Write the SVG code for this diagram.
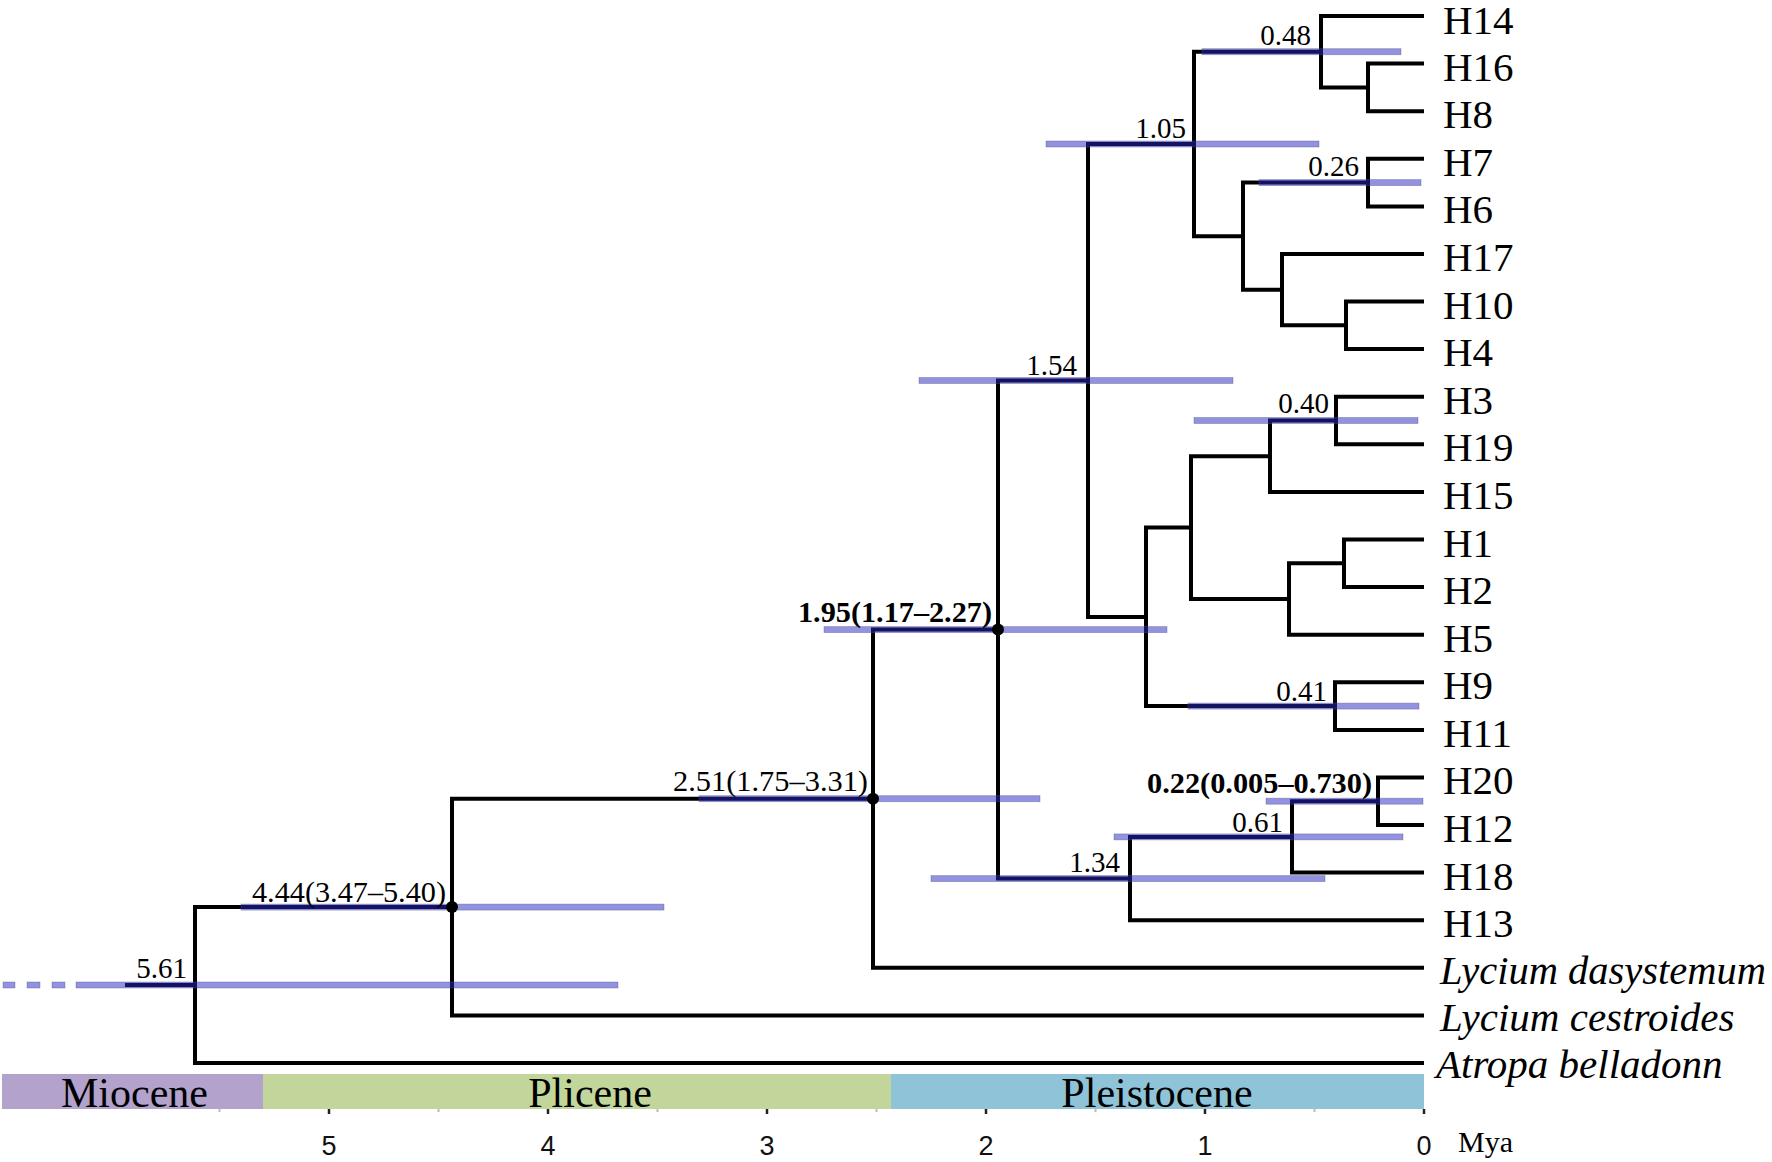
<svg xmlns="http://www.w3.org/2000/svg" width="1772" height="1162" viewBox="0 0 1772 1162">
<style>
.br{fill:none;stroke:#000;stroke-width:4;stroke-linejoin:miter;stroke-linecap:butt}
.hpd{fill:#2626c4;fill-opacity:0.5;stroke:#55557a;stroke-opacity:0.45;stroke-width:0.8}
.nl{font-family:"Liberation Serif","Times New Roman",serif;font-size:29px;fill:#000;text-anchor:end}
.nb{font-weight:bold}
.tl{font-family:"Liberation Serif","Times New Roman",serif;font-size:41px;fill:#000}
.it{font-style:italic}
.ep{font-family:"Liberation Serif","Times New Roman",serif;font-size:42px;fill:#000;text-anchor:middle}
.ax{font-family:"Liberation Sans",Arial,sans-serif;font-size:27px;fill:#111;text-anchor:middle}
.dot{fill:#000}
</style>
<rect x="0" y="0" width="1772" height="1162" fill="#fff"/>
<g id="connectors">
<path class="br" d="M1424,63.6 H1368 V111.2 H1424"/>
<path class="br" d="M1424,16 H1321 V87.4 H1368"/>
<path class="br" d="M1424,158.8 H1368 V206.4 H1424"/>
<path class="br" d="M1424,301.5 H1346 V349.1 H1424"/>
<path class="br" d="M1424,254 H1282 V325.3 H1346"/>
<path class="br" d="M1368,182.6 H1243 V289.7 H1282"/>
<path class="br" d="M1321,51.7 H1194 V236.2 H1243"/>
<path class="br" d="M1424,396.7 H1336 V444.3 H1424"/>
<path class="br" d="M1336,420.5 H1270 V491.9 H1424"/>
<path class="br" d="M1424,539.5 H1344 V587.1 H1424"/>
<path class="br" d="M1344,563.3 H1289 V634.7 H1424"/>
<path class="br" d="M1270,456.2 H1191 V599 H1289"/>
<path class="br" d="M1424,682.3 H1335 V729.9 H1424"/>
<path class="br" d="M1191,527.6 H1146 V706.1 H1335"/>
<path class="br" d="M1194,144 H1088 V616.9 H1146"/>
<path class="br" d="M1424,777.4 H1378 V825 H1424"/>
<path class="br" d="M1378,801.2 H1292 V872.6 H1424"/>
<path class="br" d="M1292,836.9 H1130 V920.2 H1424"/>
<path class="br" d="M1088,380.5 H998 V878.6 H1130"/>
<path class="br" d="M998,629.6 H873 V967.8 H1424"/>
<path class="br" d="M873,798.7 H452 V1015.4 H1424"/>
<path class="br" d="M452,907.1 H195 V1063 H1424"/>
<path class="br" d="M125,985 H195"/>
</g>
<g id="node-root">
<rect class="hpd" x="3" y="982" width="12" height="6"/>
<rect class="hpd" x="27" y="982" width="13" height="6"/>
<rect class="hpd" x="52" y="982" width="13" height="6"/>
<rect class="hpd" x="76" y="982" width="542" height="6"/>
<text class="nl" x="187" y="978">5.61</text>
</g>
<g id="node-4.44">
<rect class="hpd" x="241" y="904.1" width="423" height="6"/>
<circle class="dot" cx="452" cy="907.1" r="6"/>
<text class="nl" x="446" y="902" textLength="194" lengthAdjust="spacingAndGlyphs">4.44(3.47–5.40)</text>
</g>
<g id="node-2.51">
<rect class="hpd" x="699" y="795.7" width="341" height="6"/>
<circle class="dot" cx="873" cy="798.7" r="6"/>
<text class="nl" x="868" y="791" textLength="195" lengthAdjust="spacingAndGlyphs">2.51(1.75–3.31)</text>
</g>
<g id="node-1.95">
<rect class="hpd" x="824" y="626.6" width="343" height="6"/>
<circle class="dot" cx="998" cy="629.6" r="6"/>
<text class="nl nb" x="992" y="622" textLength="194" lengthAdjust="spacingAndGlyphs">1.95(1.17–2.27)</text>
</g>
<g id="node-1.54">
<rect class="hpd" x="919" y="377.5" width="314" height="6"/>
<text class="nl" x="1077" y="375">1.54</text>
</g>
<g id="node-1.05">
<rect class="hpd" x="1046" y="141" width="273" height="6"/>
<text class="nl" x="1186" y="138">1.05</text>
</g>
<g id="node-0.48">
<rect class="hpd" x="1202" y="48.7" width="199" height="6"/>
<text class="nl" x="1311" y="45">0.48</text>
</g>
<g id="node-0.26">
<rect class="hpd" x="1259" y="179.6" width="162" height="6"/>
<text class="nl" x="1359" y="176">0.26</text>
</g>
<g id="node-0.40">
<rect class="hpd" x="1194" y="417.5" width="224" height="6"/>
<text class="nl" x="1329" y="413">0.40</text>
</g>
<g id="node-0.41">
<rect class="hpd" x="1188" y="703.1" width="231" height="6"/>
<text class="nl" x="1327" y="701">0.41</text>
</g>
<g id="node-1.34">
<rect class="hpd" x="931" y="875.6" width="394" height="6"/>
<text class="nl" x="1120" y="872">1.34</text>
</g>
<g id="node-0.61">
<rect class="hpd" x="1114" y="833.9" width="289" height="6"/>
<text class="nl" x="1283" y="832">0.61</text>
</g>
<g id="node-0.22">
<rect class="hpd" x="1266" y="798.2" width="157" height="6"/>
<text class="nl nb" x="1372" y="793" textLength="225" lengthAdjust="spacingAndGlyphs">0.22(0.005–0.730)</text>
</g>
<g id="tips">
<g id="tip-H14"><text class="tl" x="1443" y="34">H14</text></g>
<g id="tip-H16"><text class="tl" x="1443" y="80.6">H16</text></g>
<g id="tip-H8"><text class="tl" x="1443" y="128.2">H8</text></g>
<g id="tip-H7"><text class="tl" x="1443" y="175.8">H7</text></g>
<g id="tip-H6"><text class="tl" x="1443" y="223.4">H6</text></g>
<g id="tip-H17"><text class="tl" x="1443" y="271">H17</text></g>
<g id="tip-H10"><text class="tl" x="1443" y="318.5">H10</text></g>
<g id="tip-H4"><text class="tl" x="1443" y="366.1">H4</text></g>
<g id="tip-H3"><text class="tl" x="1443" y="413.7">H3</text></g>
<g id="tip-H19"><text class="tl" x="1443" y="461.3">H19</text></g>
<g id="tip-H15"><text class="tl" x="1443" y="508.9">H15</text></g>
<g id="tip-H1"><text class="tl" x="1443" y="556.5">H1</text></g>
<g id="tip-H2"><text class="tl" x="1443" y="604.1">H2</text></g>
<g id="tip-H5"><text class="tl" x="1443" y="651.7">H5</text></g>
<g id="tip-H9"><text class="tl" x="1443" y="699.3">H9</text></g>
<g id="tip-H11"><text class="tl" x="1443" y="746.9">H11</text></g>
<g id="tip-H20"><text class="tl" x="1443" y="794.4">H20</text></g>
<g id="tip-H12"><text class="tl" x="1443" y="842">H12</text></g>
<g id="tip-H18"><text class="tl" x="1443" y="889.6">H18</text></g>
<g id="tip-H13"><text class="tl" x="1443" y="937.2">H13</text></g>
<g id="tip-Ldas"><text class="tl it" x="1440" y="983.8" textLength="326" lengthAdjust="spacingAndGlyphs">Lycium dasystemum</text></g>
<g id="tip-Lces"><text class="tl it" x="1440" y="1031.4">Lycium cestroides</text></g>
<g id="tip-Atropa"><text class="tl it" x="1436" y="1078">Atropa belladonn</text></g>
</g>
<g id="timescale">
<g stroke="#bbb" stroke-width="2">
<line x1="219.5" y1="1109" x2="219.5" y2="1112"/>
<line x1="438.5" y1="1109" x2="438.5" y2="1112"/>
<line x1="657.5" y1="1109" x2="657.5" y2="1112"/>
<line x1="876.5" y1="1109" x2="876.5" y2="1112"/>
<line x1="1095.5" y1="1109" x2="1095.5" y2="1112"/>
<line x1="1314.5" y1="1109" x2="1314.5" y2="1112"/>
</g>
<g stroke="#222" stroke-width="2.5">
<line x1="329" y1="1109" x2="329" y2="1114"/>
<line x1="548" y1="1109" x2="548" y2="1114"/>
<line x1="767" y1="1109" x2="767" y2="1114"/>
<line x1="986" y1="1109" x2="986" y2="1114"/>
<line x1="1205" y1="1109" x2="1205" y2="1114"/>
<line x1="1424" y1="1109" x2="1424" y2="1114"/>
</g>
<rect x="2" y="1074" width="261" height="35" fill="#b2a2cc"/>
<rect x="263" y="1074" width="628" height="35" fill="#c2d69b"/>
<rect x="891" y="1074" width="533" height="35" fill="#8fc4d8"/>
<text class="ep" x="134.5" y="1107">Miocene</text>
<text class="ep" x="590" y="1107">Plicene</text>
<text class="ep" x="1157" y="1107">Pleistocene</text>
<text class="ax" x="329" y="1155">5</text>
<text class="ax" x="548" y="1155">4</text>
<text class="ax" x="767" y="1155">3</text>
<text class="ax" x="986" y="1155">2</text>
<text class="ax" x="1205" y="1155">1</text>
<text class="ax" x="1424" y="1155">0</text>
<text x="1458" y="1152" font-family="Liberation Serif, Times New Roman, serif" font-size="30" fill="#000">Mya</text>
</g>
</svg>
